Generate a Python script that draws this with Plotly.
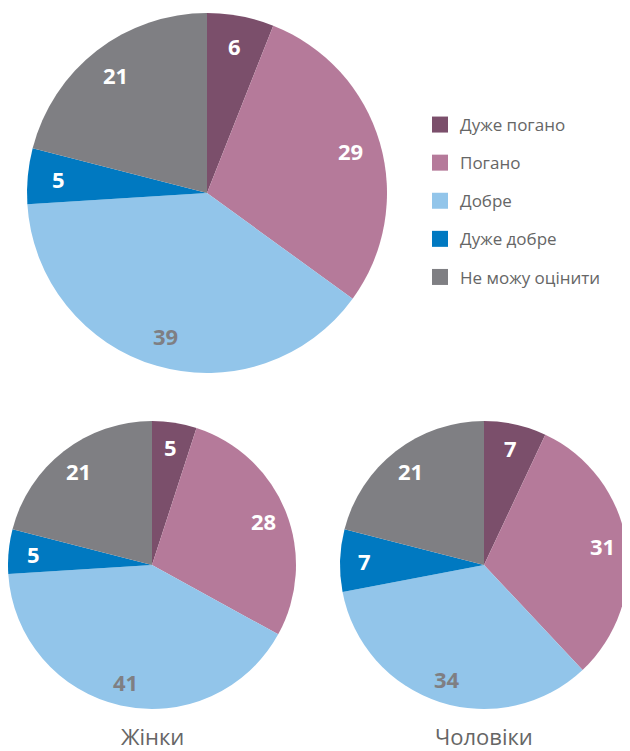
import numpy as np
import plotly.graph_objects as go

categories = ['Дуже погано', 'Погано', 'Добре', 'Дуже добре', 'Не можу оцінити']
total = [6, 29, 39, 5, 21]
women = [5, 28, 41, 5, 21]
men = [7, 31, 34, 7, 21]
group_titles = ['Жінки', 'Чоловіки']

colors = ['#7b4f6b', '#b57a9a', '#92c5ea', '#0079c1', '#7f7f83']
text_colors = ['white', 'white', '#7f7f83', 'white', 'white']
FONT = 'Open Sans'

W, H = 630, 751
# the page puts the plot 8px in from the top-left corner, so work in figure pixels
OFF = 8


def dom(left, top, size):
    # pixel box -> paper fractions
    return dict(x=[left / W, (left + size) / W], y=[1 - (top + size) / H, 1 - top / H])


def pie(values, domain):
    return go.Pie(
        labels=categories,
        values=values,
        sort=False,
        direction='clockwise',
        rotation=0,
        marker=dict(colors=colors, line=dict(width=0)),
        textinfo='none',
        domain=domain,
        showlegend=False,
        hoverinfo='label+value',
    )


def value_labels(values, left, top, size, frac=0.83):
    # put each number on its slice's middle angle, near the rim
    vals = np.array(values, dtype=float)
    mids = (np.cumsum(vals) - vals / 2) / vals.sum() * 2 * np.pi
    r = size / 2
    cx, cy = left + r, top + r
    out = []
    for v, a, c in zip(values, mids, text_colors):
        px = cx + frac * r * np.sin(a)
        py = cy - frac * r * np.cos(a)
        out.append(dict(
            x=px / W, y=1 - py / H, xref='paper', yref='paper',
            xanchor='center', yanchor='middle',
            text=str(v), showarrow=False,
            font=dict(family=FONT, size=22, color=c, weight='bold'),
        ))
    return out


pies = [
    (total, 27 - OFF, 13 - OFF, 360),
    (women, 8 - OFF, 421 - OFF, 288),
    (men, 340 - OFF, 421 - OFF, 288),
]

fig = go.Figure()
annotations = []
for vals, left, top, size in pies:
    fig.add_trace(pie(vals, dom(left, top, size)))
    annotations += value_labels(vals, left, top, size)

for title, (vals, left, top, size) in zip(group_titles, pies[1:]):
    annotations.append(dict(
        x=(left + size / 2) / W, y=1 - (736 - OFF) / H, xref='paper', yref='paper',
        text=title, showarrow=False, xanchor='center', yanchor='middle',
        font=dict(family=FONT, size=22, color='#666666'),
    ))

# legend entries, one group each so the spacing can be opened up
for name, col in zip(categories, colors):
    fig.add_trace(go.Scatter(
        x=[None], y=[None], mode='markers', name=name, legendgroup=name,
        marker=dict(symbol='square', size=16, color=col),
    ))

fig.update_layout(
    width=W,
    height=H,
    margin=dict(l=0, r=0, t=0, b=0),
    paper_bgcolor='white',
    plot_bgcolor='white',
    xaxis=dict(visible=False),
    yaxis=dict(visible=False),
    annotations=annotations,
    legend=dict(
        x=412 / W, y=1 - 99 / H, xanchor='left', yanchor='top',
        font=dict(family=FONT, size=17, color='#666666'),
        tracegroupgap=13,
        bgcolor='rgba(0,0,0,0)',
    ),
)

fig.write_html("out.html")
